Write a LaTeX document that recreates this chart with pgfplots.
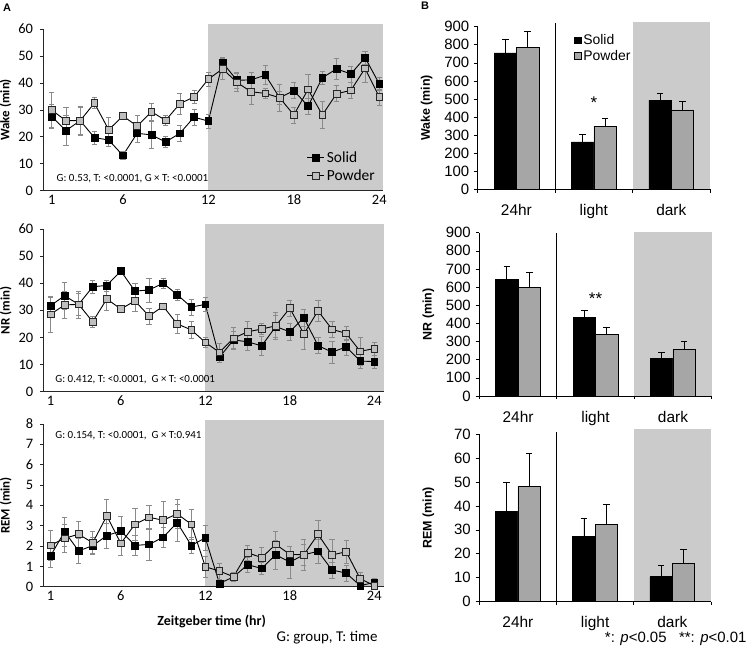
\documentclass[border=0pt]{standalone}
\usepackage{pgfplots}
\pgfplotsset{compat=1.18}
\usepackage{fontspec}
\setmainfont{Carlito}
\newfontfamily\arial{Liberation Sans}
\definecolor{bgg}{HTML}{CBCBCB}
\definecolor{pw}{HTML}{BEBEBE}
\definecolor{barg}{HTML}{A6A6A6}
\definecolor{errg}{HTML}{8A8A8A}
\pgfplotsset{
  Astyle/.style={
    scale only axis, axis on top, clip=false,
    axis lines=left, axis line style={-, black!85, line width=0.8bp},
    ymin=0,
    xtick={1,6,12,18,24},
    xtick style={draw=none},
    tick align=outside,
    major tick length=3bp,
    ytick style={black!85, line width=0.6bp},
    /pgf/number format/assume math mode=true,
    ticklabel style={font=\fontsize{14.5}{16}\selectfont},
    yticklabel style={xshift=-3.5bp},
    xticklabel style={yshift=2.5bp},
    every axis y label/.style={at={(rel axis cs:0,0.5)}, xshift=-37.5bp, rotate=90, anchor=center, font=\bfseries\fontsize{13}{15}\selectfont},
  },
  Sstyle/.style={black, line width=0.9bp, mark=square*, mark size=3.4bp,
    mark options={fill=black, draw=black, line width=0.6bp},
    error bars/.cd, y dir=both, y explicit,
    error bar style={errg, line width=0.6bp},
    error mark options={rotate=90, errg, mark size=2.6bp, line width=0.6bp}},
  Pstyle/.style={black, line width=0.9bp, mark=square*, mark size=3.4bp,
    mark options={fill=pw, draw=black!85, line width=0.7bp},
    error bars/.cd, y dir=both, y explicit,
    error bar style={errg, line width=0.6bp},
    error mark options={rotate=90, errg, mark size=2.6bp, line width=0.6bp}},
  Bstyle/.style={
    scale only axis, axis on top, clip=false,
    axis lines=left, axis line style={-, black, line width=0.8bp},
    xmin=-0.5, xmax=2.5, ymin=0,
    xtick={0,1,2}, xticklabels={24hr,light,dark},
    xtick style={draw=none},
    tick align=outside, major tick length=3.5bp,
    ytick style={black, line width=0.6bp},
    /pgf/number format/assume math mode=true,
    yticklabel style={font=\arial\fontsize{15}{17}\selectfont, xshift=-1.5bp},
    xticklabel style={font=\arial\fontsize{15.5}{17}\selectfont, yshift=-8bp},
    ybar=0pt, bar width=22.4bp,
    every axis y label/.style={at={(rel axis cs:0,0.5)}, xshift=-51bp, rotate=90, anchor=center, font=\arial\bfseries\fontsize{12.5}{15}\selectfont},
  },
  SBar/.style={fill=black, draw=black, line width=0.6bp,
    error bars/.cd, y dir=plus, y explicit,
    error bar style={black, line width=0.8bp},
    error mark options={rotate=90, black, mark size=3.3bp, line width=0.8bp}},
  PBar/.style={fill=barg, draw=black, line width=0.6bp,
    error bars/.cd, y dir=plus, y explicit,
    error bar style={black, line width=0.8bp},
    error mark options={rotate=90, black, mark size=3.3bp, line width=0.8bp}},
}
\begin{document}
\begin{tikzpicture}
\path[use as bounding box] (0,0) rectangle (750bp,649bp);
% panel letters
\node[font=\arial\bfseries\fontsize{11}{13}\selectfont] at (7bp,641bp) {A};
\node[font=\arial\bfseries\fontsize{11}{13}\selectfont] at (425bp,643bp) {B};

% ---------------- A1 Wake
\begin{axis}[Astyle, at={(43bp,458.3bp)}, anchor=south west,
  width=340.3bp, height=161.7bp, xmin=0.39, xmax=24.28, ymax=60,
  ytick={0,10,...,60}, ylabel={Wake (min)},
  legend style={at={(rel axis cs:0.775,0.255)}, anchor=north west, draw=none, fill=none,
    font=\fontsize{15.5}{17}\selectfont, row sep=1.5bp, inner sep=0bp},
  legend cell align=left]
\fill[bgg] (axis cs:12,0) rectangle (axis cs:24.28,61.8);
\addplot[Sstyle] table[x index=0, y index=1, y error index=2] {
1 27.5 4.5
2 22.3 5.5
3 26.0 5.5
4 19.7 2.5
5 18.8 2.5
6 13.1 1.5
7 21.3 3.5
8 20.7 5
9 18.1 2
10 21.3 3
11 27.3 3
12 25.8 2.5
13 47.5 2
14 41.0 3
15 41.1 3
16 42.9 3.5
17 34.5 2.5
18 37.1 3
19 31.4 3
20 41.9 2.5
21 45.2 4
22 43.3 3
23 49.4 2.5
24 39.6 2.5
};
\addlegendentry{Solid}
\addplot[Pstyle] table[x index=0, y index=1, y error index=2] {
1 29.9 6.5
2 26.0 5
3 26.0 5
4 32.5 2
5 22.6 4.5
6 27.7 1
7 24.0 4
8 29.3 3
9 26.1 2
10 32.3 4
11 34.8 2.5
12 41.4 2.5
13 45.2 4
14 40.2 3.5
15 36.7 4.5
16 36.1 2
17 34.5 5
18 28.1 3
19 37.6 5.5
20 28.1 5
21 36.0 3
22 37.2 3
23 45.4 5
24 34.7 3
};
\addlegendentry{Powder}
\node[anchor=west, font=\fontsize{11}{13}\selectfont] at (axis cs:1.1,4.4) {G: 0.53, T: <0.0001, G × T: <0.0001};
\end{axis}

% ---------------- A2 NR
\begin{axis}[Astyle, at={(43.3bp,257.3bp)}, anchor=south west,
  width=340.7bp, height=162.7bp, xmin=0.49, xmax=24.69, ymax=60,
  ytick={0,10,...,60}, ylabel={NR (min)}]
\fill[bgg] (axis cs:12,0) rectangle (axis cs:24.69,61.8);
\addplot[Sstyle] table[x index=0, y index=1, y error index=2] {
1 31.7 3
2 35.4 5
3 32.2 4
4 38.7 2.5
5 39.2 2
6 44.5 1
7 37.1 3
8 37.5 4.5
9 40.0 2
10 35.8 2
11 31.2 3
12 32.2 2.5
13 12.7 2
14 19.1 3
15 18.4 3
16 16.9 3.5
17 24.0 4
18 22.1 3
19 27.3 3
20 17.0 3
21 14.6 4
22 16.5 3
23 11.3 2.5
24 11.1 2.5
};
\addplot[Pstyle] table[x index=0, y index=1, y error index=2] {
1 28.5 6.5
2 32.0 5
3 32.2 5
4 25.8 2
5 34.2 4
6 30.5 1
7 33.5 4
8 27.9 3
9 31.5 1
10 25.0 3.5
11 22.8 3
12 18.2 2
13 14.5 3.5
14 19.7 4
15 22.1 4
16 23.1 2
17 24.3 5
18 30.8 3
19 21.3 5.5
20 29.8 4
21 23.0 3
22 21.5 2.5
23 14.9 5
24 15.9 2.5
};
\node[anchor=west, font=\fontsize{11}{13}\selectfont] at (axis cs:1.1,4.3) {G: 0.412, T: <0.0001,\ \ G × T: <0.0001};
\end{axis}

% ---------------- A3 REM
\begin{axis}[Astyle, at={(43.3bp,62.3bp)}, anchor=south west,
  width=340.7bp, height=162.7bp, xmin=0.49, xmax=24.69, ymax=8,
  ytick={0,1,...,8}, ylabel={REM (min)}]
\fill[bgg] (axis cs:12,0) rectangle (axis cs:24.69,8.2);
\addplot[Sstyle] table[x index=0, y index=1, y error index=2] {
1 1.51 0.55
2 2.71 0.7
3 1.76 0.6
4 2.02 0.4
5 2.51 0.6
6 2.74 0.7
7 2.03 0.5
8 2.08 0.8
9 2.43 0.5
10 3.15 0.9
11 2.03 0.4
12 2.40 0.6
13 0.16 0.2
14 0.48 0.2
15 1.08 0.35
16 0.90 0.3
17 1.57 0.7
18 1.21 0.8
19 1.57 0.5
20 1.74 0.6
21 0.82 0.4
22 0.67 0.4
23 0.05 0.1
24 0.21 0.2
};
\addplot[Pstyle] table[x index=0, y index=1, y error index=2] {
1 2.03 0.75
2 2.38 0.7
3 2.58 0.65
4 2.16 0.55
5 3.48 0.8
6 2.13 0.6
7 3.07 0.8
8 3.41 0.6
9 3.27 0.95
10 3.58 0.7
11 3.07 0.75
12 0.98 0.5
13 0.77 0.4
14 0.49 0.2
15 1.67 0.35
16 1.43 0.5
17 2.08 0.65
18 1.59 0.4
19 1.57 0.75
20 2.58 0.7
21 1.56 0.75
22 1.72 0.55
23 0.39 0.3
24 0.05 0.1
};
\node[anchor=west, font=\fontsize{11}{13}\selectfont] at (axis cs:1.1,7.41) {G: 0.154, T: <0.0001,\ \ G × T:0.941};
\end{axis}

\node[font=\bfseries\fontsize{14}{16}\selectfont] at (211.7bp,27.3bp) {Zeitgeber time (hr)};
\node[anchor=east, font=\fontsize{15}{17}\selectfont] at (381bp,11bp) {G: group, T: time};

% ---------------- B1 Wake
\begin{axis}[Bstyle, at={(477.7bp,459.7bp)}, anchor=south west,
  width=232.3bp, height=162.6bp, ymax=900, ytick={0,100,...,900},
  ylabel={Wake (min)},
  legend style={at={(rel axis cs:0.415,0.965)}, anchor=north west, draw=none, fill=none,
    font=\arial\fontsize{14}{15}\selectfont, row sep=0bp, inner sep=0bp},
  legend cell align=left,
  legend image code/.code={\fill[#1] (0bp,-3.2bp) rectangle (6.4bp,3.2bp);}]
\fill[bgg] (axis cs:1.5,0) rectangle (axis cs:2.5,926);
\draw[black, line width=0.8bp] (axis cs:0.5,0) -- (axis cs:0.5,920);
\pgfplotsinvokeforeach{-0.5,0.5,1.5,2.5}{\draw[black, line width=0.6bp] (axis cs:#1,0) -- ++(0bp,-3.5bp);}
\addplot[SBar] coordinates {(0,755) +- (0,75) (1,262) +- (0,40) (2,494) +- (0,37)};
\addlegendentry{Solid}
\addplot[PBar] coordinates {(0,787) +- (0,87) (1,350) +- (0,42) (2,439) +- (0,46)};
\addlegendentry{Powder}
\node[font=\arial\fontsize{17}{19}\selectfont] at (axis cs:1,480) {*};
\end{axis}

% ---------------- B2 NR
\begin{axis}[Bstyle, at={(479.3bp,253bp)}, anchor=south west,
  width=232.4bp, height=163.3bp, ymax=900, ytick={0,100,...,900},
  ylabel={NR (min)}]
\fill[bgg] (axis cs:1.5,0) rectangle (axis cs:2.5,904);
\draw[black, line width=0.8bp] (axis cs:0.5,0) -- (axis cs:0.5,900);
\pgfplotsinvokeforeach{-0.5,0.5,1.5,2.5}{\draw[black, line width=0.6bp] (axis cs:#1,0) -- ++(0bp,-3.5bp);}
\addplot[SBar] coordinates {(0,643) +- (0,73) (1,433) +- (0,41) (2,208) +- (0,33)};
\addplot[PBar] coordinates {(0,599) +- (0,82) (1,338) +- (0,39) (2,257) +- (0,46)};
\node[font=\arial\fontsize{17}{19}\selectfont] at (axis cs:1,535) {**};
\end{axis}

% ---------------- B3 REM
\begin{axis}[Bstyle, at={(479.3bp,47.3bp)}, anchor=south west,
  width=231.7bp, height=167.7bp, ymax=70, ytick={0,10,...,70},
  ylabel={REM (min)}]
\fill[bgg] (axis cs:1.5,0) rectangle (axis cs:2.5,72.1);
\draw[black, line width=0.8bp] (axis cs:0.5,0) -- (axis cs:0.5,70.8);
\pgfplotsinvokeforeach{-0.5,0.5,1.5,2.5}{\draw[black, line width=0.6bp] (axis cs:#1,0) -- ++(0bp,-3.5bp);}
\addplot[SBar] coordinates {(0,37.6) +- (0,12.2) (1,27.4) +- (0,7.4) (2,10.4) +- (0,4.6)};
\addplot[PBar] coordinates {(0,48.0) +- (0,13.9) (1,32.3) +- (0,8.2) (2,16.0) +- (0,5.8)};
\end{axis}

\node[anchor=east, font=\arial\fontsize{15}{17}\selectfont] at (750bp,10bp) {*: \textit{p}<0.05\ \ \ **: \textit{p}<0.01};
\end{tikzpicture}
\end{document}
